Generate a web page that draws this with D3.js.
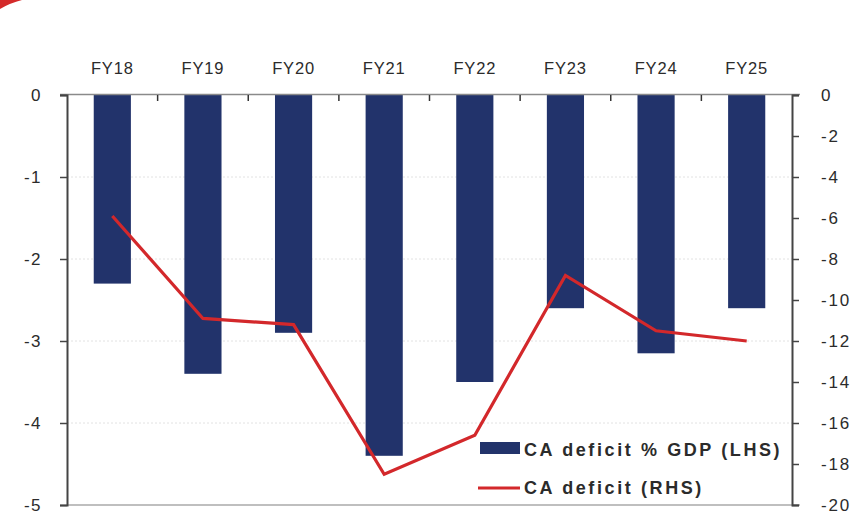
<!DOCTYPE html>
<html>
<head>
<meta charset="utf-8">
<script src="https://cdn.jsdelivr.net/npm/d3@7"></script>
<style>
  body { margin: 0; background: #fff; }
  svg text { font-family: "Liberation Sans", Arial, sans-serif; fill: #2b2b2b; }
</style>
</head>
<body>
<div id="chart"></div>
<script>
// Data
const years = ["FY18", "FY19", "FY20", "FY21", "FY22", "FY23", "FY24", "FY25"];
const deficitPctGdp = [-2.3, -3.4, -2.9, -4.4, -3.5, -2.6, -3.15, -2.6];   // LHS bars
const deficitAbs = [-5.9, -10.9, -11.2, -18.5, -16.6, -8.8, -11.5, -12.0];  // RHS line
const lhsTicks = [0, -1, -2, -3, -4, -5];
const rhsTicks = [0, -2, -4, -6, -8, -10, -12, -14, -16, -18, -20];

const width = 852, height = 517;
const plotLeft = 67, plotRight = 792, plotTop = 95, plotBottom = 505;

const svg = d3.select("#chart").append("svg")
  .attr("width", width)
  .attr("height", height);

// little red corner mark from the source page
svg.append("path")
  .attr("d", "M0,0 L22,0 Q10,3 0,9 Z")
  .attr("fill", "#d42a2a");

const x = d3.scaleBand().domain(years).range([plotLeft, plotRight]).paddingInner(0.59).paddingOuter(0.295);
const xb = d3.scaleBand().domain(years).range([plotLeft, plotRight]);
const yL = d3.scaleLinear().domain([0, -5]).range([plotTop, plotBottom]);
const yR = d3.scaleLinear().domain([0, -20]).range([plotTop, plotBottom]);

// gridlines
svg.append("g")
  .selectAll("line")
  .data(lhsTicks.filter(d => d !== 0 && d !== -5))
  .join("line")
  .attr("x1", plotLeft).attr("x2", plotRight)
  .attr("y1", d => yL(d)).attr("y2", d => yL(d))
  .attr("stroke", "#e2e2e2")
  .attr("stroke-dasharray", "2,2");

// bars
svg.append("g")
  .selectAll("rect")
  .data(years)
  .join("rect")
  .attr("x", d => x(d))
  .attr("width", x.bandwidth())
  .attr("y", yL(0))
  .attr("height", (d, i) => yL(deficitPctGdp[i]) - yL(0))
  .attr("fill", "#22336b");

// top axis line + category separators
svg.append("line")
  .attr("x1", plotLeft - 7).attr("x2", plotRight + 8)
  .attr("y1", plotTop - 0.5).attr("y2", plotTop - 0.5)
  .attr("stroke", "#8a8a8a").attr("stroke-width", 1.5);
svg.append("g")
  .selectAll("line")
  .data(years.slice(1))
  .join("line")
  .attr("x1", d => xb(d)).attr("x2", d => xb(d))
  .attr("y1", plotTop).attr("y2", plotTop + 6)
  .attr("stroke", "#333").attr("stroke-width", 1.5);

// bottom line
svg.append("line")
  .attr("x1", plotLeft).attr("x2", plotRight + 8)
  .attr("y1", plotBottom).attr("y2", plotBottom)
  .attr("stroke", "#aaa").attr("stroke-width", 1.5);

// category labels
svg.append("g")
  .selectAll("text")
  .data(years)
  .join("text")
  .attr("x", d => xb(d) + xb.bandwidth() / 2)
  .attr("y", 74)
  .attr("text-anchor", "middle")
  .attr("font-size", 16.5)
  .attr("letter-spacing", 0.8)
  .text(d => d);

// left axis
const axL = svg.append("g")
  .attr("transform", `translate(${plotLeft},0)`)
  .call(d3.axisLeft(yL).tickValues(lhsTicks).tickSize(7).tickPadding(18).tickFormat(d => String(d)))
  .attr("font-family", null).attr("font-size", null);
axL.select(".domain").attr("stroke", "#444").attr("stroke-width", 2);
axL.selectAll(".tick line").attr("stroke", "#444").attr("stroke-width", 1.5);
axL.selectAll(".tick text").attr("font-size", 17).attr("letter-spacing", 1.5).attr("fill", "#2b2b2b");

// right axis
const axR = svg.append("g")
  .attr("transform", `translate(${plotRight},0)`)
  .call(d3.axisRight(yR).tickValues(rhsTicks).tickSize(7).tickPadding(22).tickFormat(d => String(d)))
  .attr("font-family", null).attr("font-size", null);
axR.select(".domain").attr("stroke", "#444").attr("stroke-width", 2);
axR.selectAll(".tick line").attr("stroke", "#444").attr("stroke-width", 1.5);
axR.selectAll(".tick text").attr("font-size", 17).attr("letter-spacing", 1.8).attr("fill", "#2b2b2b");

// line
const line = d3.line()
  .x((d, i) => xb(years[i]) + xb.bandwidth() / 2)
  .y(d => yR(d));
svg.append("path")
  .datum(deficitAbs)
  .attr("d", line)
  .attr("fill", "none")
  .attr("stroke", "#d3282b")
  .attr("stroke-width", 3.2);

// legend
const lg = svg.append("g");
lg.append("rect")
  .attr("x", 480).attr("y", 442).attr("width", 40).attr("height", 12)
  .attr("fill", "#22336b");
lg.append("line")
  .attr("x1", 478).attr("x2", 520).attr("y1", 488).attr("y2", 488)
  .attr("stroke", "#d3282b").attr("stroke-width", 3.2);
lg.append("text")
  .attr("x", 524).attr("y", 456)
  .attr("font-size", 18).attr("font-weight", "bold").attr("letter-spacing", 2.6)
  .text("CA deficit % GDP (LHS)");
lg.append("text")
  .attr("x", 524).attr("y", 494)
  .attr("font-size", 18).attr("font-weight", "bold").attr("letter-spacing", 2.6)
  .text("CA deficit (RHS)");
</script>
</body>
</html>
